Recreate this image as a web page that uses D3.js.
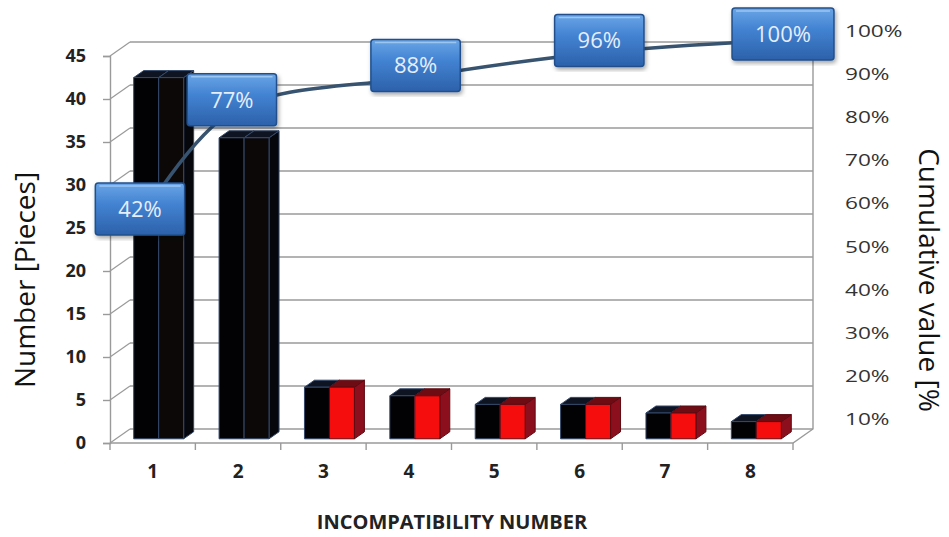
<!DOCTYPE html>
<html>
<head>
<meta charset="utf-8">
<script src="https://cdn.jsdelivr.net/npm/d3@7"></script>
<style>
  body { margin: 0; background: #fff; }
  svg { display: block; font-family: 'Open Sans', sans-serif; }
</style>
</head>
<body>
<svg id="chart" width="949" height="537"></svg>
<script>
// data
const categories = ['1', '2', '3', '4', '5', '6', '7', '8'];
const counts = [42, 35, 6, 5, 4, 4, 3, 2];
const countTicks = [0, 5, 10, 15, 20, 25, 30, 35, 40, 45];
const pctTicks = [10, 20, 30, 40, 50, 60, 70, 80, 90, 100];
const cumCats = [1, 2, 4, 6, 8];
const cumPct = [42, 77, 88, 96, 100];

const svg = d3.select('#chart');
const defs = svg.append('defs');

// 3d look: floor depth and where the columns sit inside it
const depth = { x: 20, y: -14 };
const barDepth = [0.3, 0.8];

const x = d3.scaleBand().domain(categories).range([110, 793]);
const y = d3.scaleLinear().domain([0, 45]).range([443, 56]);
const pctY = d3.scaleLinear().domain([10, 100]).range([419, 31]);
const lineX = d3.scaleLinear().domain([1, 8]).range([140, 783]);
const lineY = d3.scaleLinear().domain([0, 100]).range([352, 40]);

const gridColor = '#9a9a9a';

// Back wall gridlines
svg.append('g')
  .selectAll('line')
  .data(countTicks)
  .enter()
  .append('line')
  .attr('x1', 110 + depth.x)
  .attr('x2', 793 + depth.x)
  .attr('y1', (d) => y(d) + depth.y)
  .attr('y2', (d) => y(d) + depth.y)
  .attr('stroke', gridColor)
  .attr('stroke-width', 1.6);

// Side wall diagonals
svg.append('g')
  .selectAll('line')
  .data(countTicks)
  .enter()
  .append('line')
  .attr('x1', 110)
  .attr('x2', 110 + depth.x)
  .attr('y1', (d) => y(d))
  .attr('y2', (d) => y(d) + depth.y)
  .attr('stroke', gridColor)
  .attr('stroke-width', 1.2);

// Floor edges and right wall edge
const frame = svg.append('g').attr('stroke', gridColor).attr('stroke-width', 1.4).attr('fill', 'none');
frame.append('path')
  .attr('d', `M110,${y(0)}L793,${y(0)}L${793 + depth.x},${y(0) + depth.y}L${793 + depth.x},${y(45) + depth.y}`);

// Category ticks on the front edge of the floor
frame.selectAll('line')
  .data(d3.range(categories.length + 1))
  .enter()
  .append('line')
  .attr('x1', (d) => 110 + d * x.bandwidth())
  .attr('x2', (d) => 110 + d * x.bandwidth())
  .attr('y1', y(0))
  .attr('y2', y(0) + 7);

// Left axis
const leftAxis = svg.append('g')
  .attr('transform', 'translate(110,0)')
  .call(d3.axisLeft(y).tickValues(countTicks).tickSize(7).tickPadding(17));
leftAxis.select('.domain').attr('stroke', gridColor).attr('stroke-width', 1.4);
leftAxis.selectAll('.tick line').attr('stroke', gridColor).attr('stroke-width', 1.4);
leftAxis.selectAll('text')
  .attr('font-family', 'Open Sans')
  .attr('font-weight', 700)
  .attr('font-size', 18)
  .attr('fill', '#222');

// Right axis (labels only)
const rightAxis = svg.append('g')
  .attr('transform', 'translate(845,0)')
  .call(d3.axisRight(pctY).tickValues(pctTicks).tickFormat((d) => `${d}%`).tickSize(0).tickPadding(0));
rightAxis.select('.domain').remove();
rightAxis.selectAll('text')
  .attr('font-family', 'Open Sans')
  .attr('font-size', 17)
  .attr('fill', '#333')
  .attr('textLength', function () { return this.getComputedTextLength() * 1.33; })
  .attr('lengthAdjust', 'spacingAndGlyphs');

// Category labels
svg.append('g')
  .selectAll('text')
  .data(categories)
  .enter()
  .append('text')
  .attr('x', (d) => x(d) + x.bandwidth() / 2)
  .attr('y', 478)
  .attr('text-anchor', 'middle')
  .attr('font-weight', 700)
  .attr('font-size', 19)
  .attr('fill', '#222')
  .text((d) => d);

// Columns: the vital few (cumulative up to 80%) stay black, the rest get a red half
const total = d3.sum(counts);
const cumShare = d3.cumsum(counts).map((c) => (c / total) * 100);
const palette = {
  black: { front: '#0c0808', top: '#0e1422', side: '#05070c', edge: '#34496a' },
  red: { front: '#f50d0d', top: '#6e0c14', side: '#8c0f1d', edge: '#5c0a12' }
};
const dark = palette.black;

const barW = x.bandwidth() * 0.585;
const dx = depth.x * (barDepth[1] - barDepth[0]);
const dy = depth.y * (barDepth[1] - barDepth[0]);

const bars = svg.append('g')
  .selectAll('g')
  .data(counts.map((v, i) => ({ cat: categories[i], v, p: cumShare[i] <= 80 ? palette.black : palette.red })))
  .enter()
  .append('g')
  .attr('stroke-width', 1)
  .attr('stroke-linejoin', 'round');

const bx = (d) => x(d.cat) + (x.bandwidth() - barW) / 2 + depth.x * barDepth[0];
const by0 = y(0) + depth.y * barDepth[0];
const byT = (d) => y(d.v) + depth.y * barDepth[0];
const poly = (pts) => `M${pts.map((p) => p.join(',')).join('L')}Z`;

// side
bars.append('path')
  .attr('fill', (d) => d.p.side)
  .attr('stroke', (d) => d.p.edge)
  .attr('d', (d) => poly([
    [bx(d) + barW, byT(d)], [bx(d) + barW + dx, byT(d) + dy],
    [bx(d) + barW + dx, by0 + dy], [bx(d) + barW, by0]
  ]));
// top, left half
bars.append('path')
  .attr('fill', dark.top)
  .attr('stroke', dark.edge)
  .attr('d', (d) => poly([
    [bx(d), byT(d)], [bx(d) + barW / 2, byT(d)],
    [bx(d) + barW / 2 + dx, byT(d) + dy], [bx(d) + dx, byT(d) + dy]
  ]));
// top, right half
bars.append('path')
  .attr('fill', (d) => d.p.top)
  .attr('stroke', (d) => d.p.edge)
  .attr('d', (d) => poly([
    [bx(d) + barW / 2, byT(d)], [bx(d) + barW, byT(d)],
    [bx(d) + barW + dx, byT(d) + dy], [bx(d) + barW / 2 + dx, byT(d) + dy]
  ]));
// front, left half
bars.append('rect')
  .attr('x', (d) => bx(d))
  .attr('y', (d) => byT(d))
  .attr('width', barW / 2)
  .attr('height', (d) => by0 - byT(d))
  .attr('fill', '#020204')
  .attr('stroke', dark.edge);
// front, right half
bars.append('rect')
  .attr('x', (d) => bx(d) + barW / 2)
  .attr('y', (d) => byT(d))
  .attr('width', barW / 2)
  .attr('height', (d) => by0 - byT(d))
  .attr('fill', (d) => d.p.front)
  .attr('stroke', (d) => d.p.edge);

// Cumulative line
const linePts = cumCats.map((c, i) => ({ x: lineX(c), y: lineY(cumPct[i]), pct: cumPct[i] }));
svg.append('path')
  .datum(linePts)
  .attr('fill', 'none')
  .attr('stroke', '#37536f')
  .attr('stroke-width', 3.5)
  .attr('stroke-linecap', 'round')
  .attr('d', d3.line().x((d) => d.x).y((d) => d.y).curve(d3.curveCatmullRom));

// Label boxes
const grad = defs.append('linearGradient').attr('id', 'boxGrad').attr('x1', 0).attr('y1', 0).attr('x2', 0).attr('y2', 1);
grad.append('stop').attr('offset', '0%').attr('stop-color', '#6aa5e6');
grad.append('stop').attr('offset', '40%').attr('stop-color', '#4383d2');
grad.append('stop').attr('offset', '100%').attr('stop-color', '#2c61aa');
defs.append('filter').attr('id', 'shadow')
  .append('feDropShadow')
  .attr('dx', 1.5).attr('dy', 2.5).attr('stdDeviation', 2).attr('flood-opacity', 0.35);

const boxes = svg.append('g')
  .selectAll('g')
  .data(linePts)
  .enter()
  .append('g');

boxes.each(function (d) {
  const g = d3.select(this);
  const label = g.append('text')
    .attr('font-size', 22)
    .attr('fill', '#e6eef9')
    .attr('text-anchor', 'middle')
    .text(`${d.pct}%`);
  const w = label.node().getComputedTextLength() + 46;
  const h = 52;
  const cy = Math.max(d.y - 12, 8 + h / 2);
  g.insert('rect', 'text')
    .attr('x', d.x - w / 2)
    .attr('y', cy - h / 2)
    .attr('width', w)
    .attr('height', h)
    .attr('rx', 3)
    .attr('fill', 'url(#boxGrad)')
    .attr('stroke', '#20508c')
    .attr('stroke-width', 1.5)
    .attr('filter', 'url(#shadow)');
  g.insert('line', 'text')
    .attr('x1', d.x - w / 2 + 4)
    .attr('x2', d.x + w / 2 - 4)
    .attr('y1', cy - h / 2 + 3)
    .attr('y2', cy - h / 2 + 3)
    .attr('stroke', '#9cc6f2')
    .attr('stroke-width', 1.5);
  label.attr('x', d.x).attr('y', cy).attr('dy', '0.36em');
});

// Axis titles
svg.append('text')
  .attr('transform', 'translate(35,280) rotate(-90)')
  .attr('text-anchor', 'middle')
  .attr('font-size', 28)
  .attr('fill', '#111')
  .text('Number [Pieces]');

svg.append('text')
  .attr('transform', 'translate(919,280) rotate(90)')
  .attr('text-anchor', 'middle')
  .attr('font-size', 28)
  .attr('fill', '#111')
  .text('Cumulative value [%');

svg.append('text')
  .attr('x', 452)
  .attr('y', 529)
  .attr('text-anchor', 'middle')
  .attr('font-weight', 700)
  .attr('font-size', 20)
  .attr('fill', '#222')
  .text('INCOMPATIBILITY NUMBER');
</script>
</body>
</html>
